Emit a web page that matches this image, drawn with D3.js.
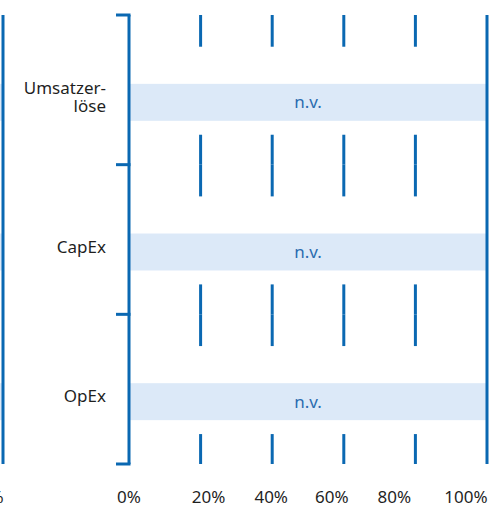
<!DOCTYPE html>
<html>
<head>
<meta charset="utf-8">
<script src="https://cdn.jsdelivr.net/npm/d3@7"></script>
<style>
  html, body { margin: 0; padding: 0; background: #fff; }
  svg { display: block; }
  text { font-family: "Noto Sans", "Open Sans", sans-serif; }
</style>
</head>
<body>
<svg id="chart" width="495" height="507"></svg>
<script>
// Categories (row labels, split into lines) and their values
const categories = ["Umsatzerlöse", "CapEx", "OpEx"];
const categoryLines = [["Umsatzer-", "löse"], ["CapEx"], ["OpEx"]];
const barValues = [100, 100, 100];          // share of the full scale covered by each bar
const barLabels = ["n.v.", "n.v.", "n.v."]; // value not available
const tickValues = [0, 20, 40, 60, 80, 100];
const tickLabels = ["0%", "20%", "40%", "60%", "80%", "100%"];

// Layout
const plotLeft = 129, plotRight = 487, plotTop = 15, plotBottom = 464;
const panelShift = plotRight - 3;             // neighbouring panel to the left
const labelNudge = [0, 8, -1, -12, -21, -21]; // horizontal tweak of tick labels
const blue = "#0a68b2", bandFill = "#dce9f8", textBlue = "#2a6cb0", ink = "#1f1f1f";

const svg = d3.select("#chart");

const x = d3.scaleLinear().domain([0, 100]).range([plotLeft, plotRight]);
const row = d3.scaleBand().domain(categories).range([plotTop, plotBottom]).padding(0);
// positions inside a row, as fractions of the row height
const inner = d3.scaleLinear().domain([0, 1]).range([0, row.bandwidth()]);
const barTop = 0.46, barBottom = 0.707, gapTop = 0.212, gapBottom = 0.80;

function drawPanel(g, full) {
  // bars
  g.selectAll("rect.bar")
    .data(categories)
    .join("rect")
    .attr("class", "bar")
    .attr("x", x(0))
    .attr("width", (d, i) => x(barValues[i]) - x(0))
    .attr("y", d => row(d) + inner(barTop))
    .attr("height", inner(barBottom) - inner(barTop))
    .attr("fill", bandFill);

  if (full) {
    g.selectAll("text.bar-label")
      .data(categories)
      .join("text")
      .attr("class", "bar-label")
      .attr("x", (d, i) => x(barValues[i] / 2))
      .attr("y", d => row(d) + (inner(barTop) + inner(barBottom)) / 2)
      .attr("dy", "0.35em")
      .attr("text-anchor", "middle")
      .attr("font-size", 17)
      .attr("fill", textBlue)
      .text((d, i) => barLabels[i]);

    // inner grid lines, interrupted around the bar area of each row
    const innerTicks = tickValues.filter(v => v > 0 && v < 100);
    const segs = [];
    categories.forEach(c => {
      innerTicks.forEach(v => {
        segs.push({ v, y1: row(c), y2: row(c) + inner(gapTop) });
        segs.push({ v, y1: row(c) + inner(gapBottom), y2: row(c) + row.bandwidth() });
      });
    });
    g.selectAll("line.grid")
      .data(segs)
      .join("line")
      .attr("class", "grid")
      .attr("x1", d => x(d.v)).attr("x2", d => x(d.v))
      .attr("y1", d => d.y1).attr("y2", d => d.y2)
      .attr("stroke", blue).attr("stroke-width", 3);

    // 0% bracket with row separators
    g.append("line")
      .attr("x1", x(0)).attr("x2", x(0))
      .attr("y1", plotTop).attr("y2", plotBottom)
      .attr("stroke", blue).attr("stroke-width", 3);
    const bounds = categories.map(c => row(c)).concat([plotBottom]);
    g.selectAll("line.sep")
      .data(bounds)
      .join("line")
      .attr("class", "sep")
      .attr("x1", x(0) - 13).attr("x2", x(0) + 1.5)
      .attr("y1", d => d).attr("y2", d => d)
      .attr("stroke", blue).attr("stroke-width", 3);

    // row labels, one text per line
    const lh = 18;
    const lineData = [];
    categories.forEach((c, i) => {
      const lines = categoryLines[i];
      lines.forEach((t, j) => {
        lineData.push({ t, y: row(c) + row.bandwidth() / 2 + 13 + (j - (lines.length - 1) / 2) * lh });
      });
    });
    g.selectAll("text.cat")
      .data(lineData)
      .join("text")
      .attr("class", "cat")
      .attr("x", x(0) - 23)
      .attr("y", d => d.y)
      .attr("text-anchor", "end")
      .attr("font-size", 17)
      .attr("fill", ink)
      .text(d => d.t);
  }

  // 100% line
  g.append("line")
    .attr("x1", x(100)).attr("x2", x(100))
    .attr("y1", plotTop).attr("y2", plotBottom)
    .attr("stroke", blue).attr("stroke-width", 3);

  // tick labels (only the last one of the neighbouring panel reaches the view)
  const idx = full ? tickValues.map((v, i) => i) : [tickValues.length - 1];
  g.selectAll("text.tick")
    .data(idx)
    .join("text")
    .attr("class", "tick")
    .attr("x", i => x(tickValues[i]) + labelNudge[i])
    .attr("y", 503)
    .attr("text-anchor", "middle")
    .attr("font-size", 17)
    .attr("fill", ink)
    .text(i => tickLabels[i]);
}

// neighbouring panel (mostly outside the view) and the main panel
drawPanel(svg.append("g").attr("transform", `translate(${-panelShift},0)`), false);
drawPanel(svg.append("g"), true);
</script>
</body>
</html>
